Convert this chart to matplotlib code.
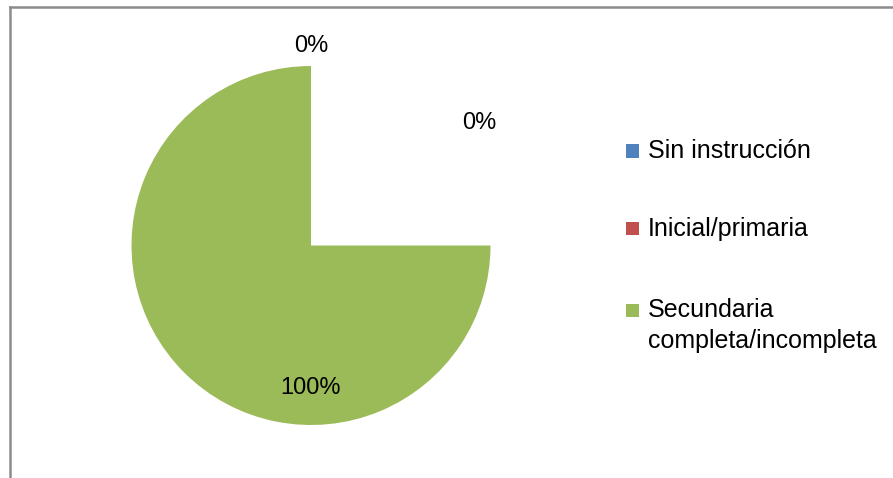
import numpy as np
import matplotlib
matplotlib.use("Agg")
import matplotlib.pyplot as plt
from matplotlib.patches import Rectangle
from matplotlib.lines import Line2D

plt.rcParams['font.family'] = ['Liberation Sans', 'DejaVu Sans']

categories = ["Sin instrucción", "Inicial/primaria", "Secundaria\ncompleta/incompleta"]
values = [0, 0, 100]
pct_labels = ["0%", "0%", "100%"]
colors = ["#4F81BD", "#C0504D", "#9BBB59"]

W, H = 893, 478
fig = plt.figure(figsize=(W / 100, H / 100), dpi=100)

# pie axes: center at (311, 245.5) px, radius 179.5 px
cx, cy, r = 311, 245.5, 179.5
half = 220
ax = fig.add_axes([(cx - half) / W, (H - cy - half) / H, 2 * half / W, 2 * half / H])

SWEEP = 270.0  # the reference chart draws the full share over three quarters of the circle
vals = np.array(values, dtype=float)
fracs = vals / vals.sum() * SWEEP / 360.0
wedges, _ = ax.pie(fracs, colors=colors, normalize=False, startangle=0,
                   counterclock=False, radius=1.0, center=(0, 0),
                   wedgeprops=dict(linewidth=0))
ax.set_xlim(-half / r, half / r)
ax.set_ylim(-half / r, half / r)
ax.set_aspect('auto')
ax.axis('off')

# data labels
label_pos = [(0.0, 1.11), (0.94, 0.68), (0.0, -0.795)]
for (x, y), t in zip(label_pos, pct_labels):
    ax.text(x, y, t, ha='center', va='center', fontsize=17, color='black')

# legend
leg_y = [151, 229, 310]
line_gap = 31
for yy, cat, col in zip(leg_y, categories, colors):
    fig.patches.append(Rectangle((626 / W, (H - yy - 6.5) / H), 13 / W, 13 / H,
                                 transform=fig.transFigure, facecolor=col, edgecolor='none'))
    for i, line in enumerate(cat.split('\n')):
        fig.text(648 / W, (H - yy - i * line_gap) / H, line, ha='left', va='center',
                 fontsize=18, color='black')

# frame
fig.lines.append(Line2D([10 / W, 1.0], [(H - 7) / H, (H - 7) / H], transform=fig.transFigure,
                        color='#8c8c8c', linewidth=1.8))
fig.lines.append(Line2D([10 / W, 10 / W], [0, (H - 7) / H], transform=fig.transFigure,
                        color='#8c8c8c', linewidth=1.8))

fig.savefig("out.png", dpi=100)
